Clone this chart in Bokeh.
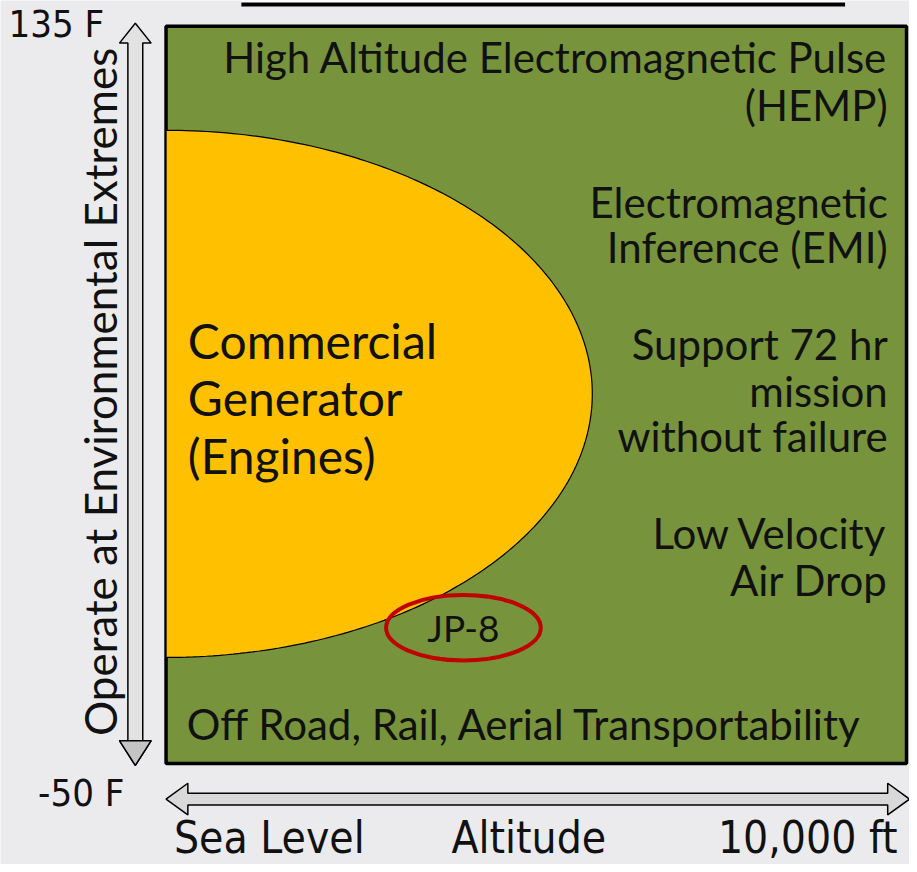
import numpy as np
from bokeh.plotting import figure
from bokeh.models import Range1d
from bokeh.core.properties import value
from bokeh.embed import file_html
from bokeh.resources import INLINE

# ---- diagram data (pixel-like diagram coordinates, y grows downward) ----
box = dict(left=167, right=914, top=26, bottom=770)

# commercial generator envelope (half ellipse anchored on the left edge)
gen_cx, gen_cy, gen_rx, gen_ry = 167, 397, 430, 266
gen_lines = ["Commercial", "Generator", "(Engines)"]
gen_y = [343, 401, 459]

# requirement notes on the right
note_lines = ["High Altitude Electromagnetic Pulse", "(HEMP)",
              "Electromagnetic", "Inference (EMI)",
              "Support 72 hr", "mission", "without failure",
              "Low Velocity", "Air Drop"]
note_y = [57, 105, 203, 249, 347, 394, 440, 537, 585]
bottom_note = "Off Road, Rail, Aerial Transportability"

# JP-8 callout
jp8 = dict(x=467, y=633, w=156, h=66, label="JP-8")

# axis labels
temp_ticks = ["135 F", "-50 F"]
alt_ticks = ["Sea Level", "Altitude", "10,000 ft"]
y_title = "Operate at Environmental Extremes"

MAIN_FONT = value("Lato")
COND_FONT = value("DejaVu Sans Condensed")

p = figure(width=909, height=864, x_range=Range1d(0, 917), y_range=Range1d(872, 0),
           output_backend="svg", toolbar_location=None, min_border=0)
p.axis.visible = False
p.grid.visible = False
p.outline_line_color = None
p.background_fill_color = "#ebebee"
p.border_fill_color = "#ebebee"

# top title box remnant (bottom edge of the cut-off title box)
p.quad(left=[243], right=[852], top=[-10], bottom=[3], fill_color="white", line_color=None)
p.segment(x0=[243], y0=[4], x1=[852], y1=[4], line_color="black", line_width=4)

# green requirement box
p.quad(left=[box["left"]], right=[box["right"]], top=[box["top"]], bottom=[box["bottom"]],
       fill_color="#77933C", line_color="black", line_width=3.5)

# yellow half ellipse
th = np.linspace(-np.pi / 2, np.pi / 2, 200)
p.patch(gen_cx + gen_rx * np.cos(th), gen_cy + gen_ry * np.sin(th),
        fill_color="#FFC000", line_color="black", line_width=1.2)

# texts in yellow
p.text(x=[189] * len(gen_lines), y=gen_y, text=gen_lines, text_font=MAIN_FONT,
       text_font_size="48px", text_align="left", text_baseline="middle", text_color="#111111")

# notes
p.text(x=[895] * len(note_lines), y=note_y, text=note_lines, text_font=MAIN_FONT,
       text_font_size="42px", text_align="right", text_baseline="middle", text_color="#111111")
p.text(x=[188], y=[730], text=[bottom_note], text_font=MAIN_FONT,
       text_font_size="42px", text_align="left", text_baseline="middle", text_color="#111111")

# JP-8 callout
p.ellipse(x=[jp8["x"]], y=[jp8["y"]], width=[jp8["w"]], height=[jp8["h"]],
          fill_alpha=0, line_color="#C00000", line_width=4)
p.text(x=[jp8["x"]], y=[jp8["y"]], text=[jp8["label"]], text_font=MAIN_FONT,
       text_font_size="37px", text_align="center", text_baseline="middle", text_color="#111111")

# vertical double arrow
ax_c = 136
vx = [ax_c, ax_c + 16, ax_c + 7.5, ax_c + 7.5, ax_c + 16, ax_c, ax_c - 16, ax_c - 7.5, ax_c - 7.5, ax_c - 16]
vy = [23, 43, 43, 747, 747, 772, 747, 747, 43, 43]
p.patch(vx, vy, fill_color="#e2e2e2", line_color="black", line_width=1.5)
p.patch([ax_c + 16, ax_c, ax_c - 16], [747, 772, 747], fill_color="#c4c4c4", line_color="black", line_width=1.5)

# horizontal double arrow
ay_c = 806
hx = [167, 189, 189, 895, 895, 917, 895, 895, 189, 189]
hy = [ay_c, ay_c - 16, ay_c - 6, ay_c - 6, ay_c - 16, ay_c, ay_c + 16, ay_c + 6, ay_c + 6, ay_c + 16]
p.patch(hx, hy, fill_color="#d9d9d9", line_color="black", line_width=1.5)

# temperature labels
p.text(x=[8, 125], y=[24, 800], text=temp_ticks, text_font=COND_FONT, text_font_size="38px",
       text_align=["left", "right"], text_baseline="middle", text_color="#111111")

# altitude labels
p.text(x=[175, 533, 905], y=[845, 845, 845], text=alt_ticks, text_font=COND_FONT, text_font_size="44px",
       text_align=["left", "center", "right"], text_baseline="middle", text_color="#111111")

# vertical title
p.text(x=[100], y=[395], text=[y_title], angle=[np.pi / 2], text_font=MAIN_FONT,
       text_font_size="44px", text_align="center", text_baseline="middle", text_color="#111111")

open("out.html", "w").write(file_html(p, INLINE))
